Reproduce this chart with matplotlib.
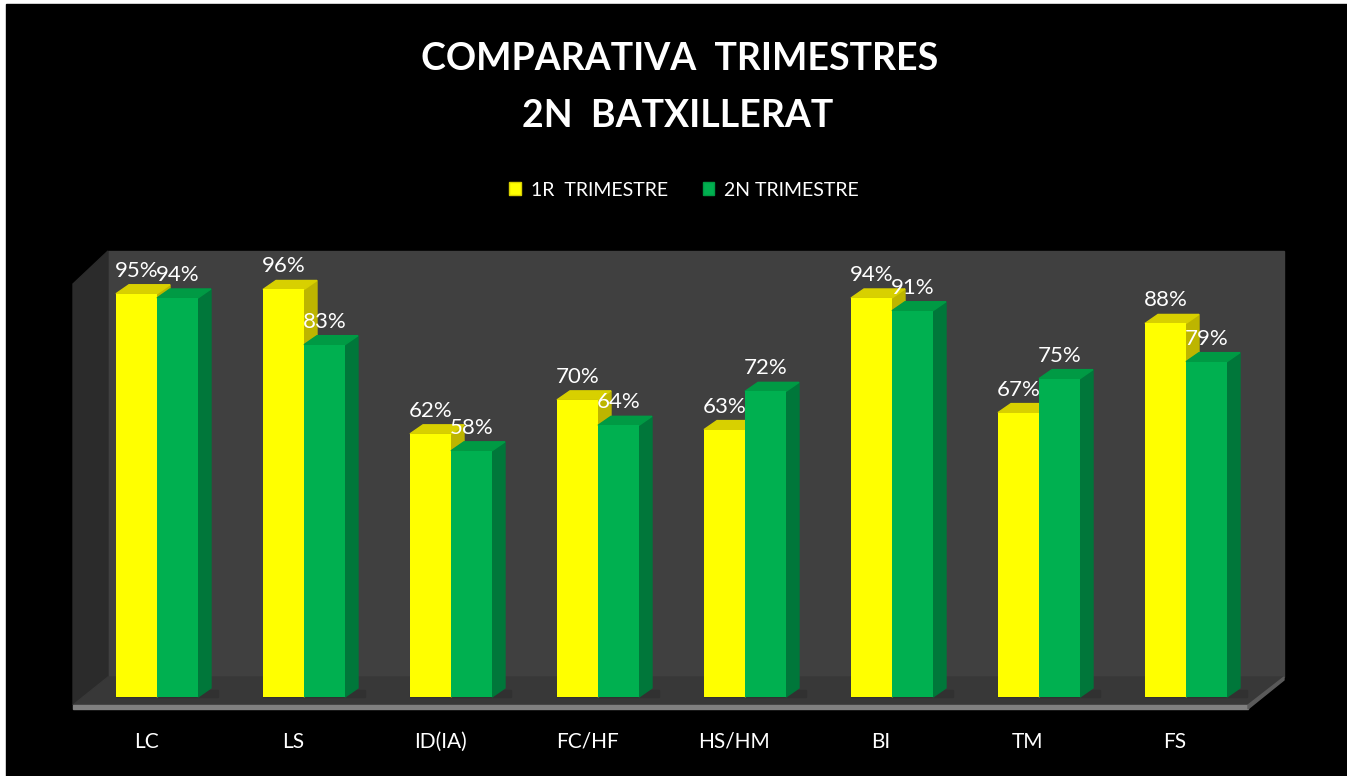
import matplotlib
matplotlib.use("Agg")
import matplotlib.pyplot as plt
from matplotlib.patches import Polygon, Rectangle, Patch

# Dades
categories = ["LC", "LS", "ID(IA)", "FC/HF", "HS/HM", "BI", "TM", "FS"]
trim1 = [95, 96, 62, 70, 63, 94, 67, 88]
trim2 = [94, 83, 58, 64, 72, 91, 75, 79]
series_names = ["1R  TRIMESTRE", "2N TRIMESTRE"]

W, H = 1347, 776
FONT = ["Lato", "DejaVu Sans"]
plt.rcParams["font.family"] = FONT

# geometria en pixels (origen dalt-esquerra)
X0, STEP = 157, 147      # centre de la primera categoria, separacio
Y0, PPU = 697, 4.245     # linia de zero, pixels per %
DX, DY = 13, 9           # profunditat de les barres

fig = plt.figure(figsize=(W / 100, H / 100), dpi=100)
fig.patch.set_facecolor("white")

# fons i parets (coordenades pixel)
bg = fig.add_axes([0, 0, 1, 1])
bg.set_xlim(0, W)
bg.set_ylim(H, 0)
bg.axis("off")
bg.add_patch(Rectangle((6, 4), W, H, color="black"))
bg.add_patch(Rectangle((108, 251), 1284 - 108, 677 - 251, color="#404040"))
bg.add_patch(Polygon([(73, 284), (108, 251), (108, 677), (73, 705)], color="#2b2b2b"))
bg.add_patch(Polygon([(73, 705), (1248, 705), (1284, 677), (108, 677)], color="#383838"))
bg.add_patch(Polygon([(73, 705), (1248, 705), (1248, 709), (73, 709)], color="#808080"))
bg.add_patch(Polygon([(1248, 705), (1284, 677), (1284, 680), (1248, 709)], color="#5a5a5a"))

# eix de dades
ax = fig.add_axes([0, 0, 1, 1])
ax.patch.set_alpha(0)
ax.set_xlim(-X0 / STEP, (W - X0) / STEP)
ax.set_ylim((Y0 - H) / PPU, Y0 / PPU)
ax.axis("off")

w = 41 / STEP
dx = DX / STEP
dy = DY / PPU
styles = [("#FFFF00", "#D8D000", "#BDB500"), ("#00B050", "#009A44", "#00773A")]

for i in range(len(categories)):
    for k, vals in enumerate([trim1, trim2]):
        v = vals[i]
        x = i + (k - 0.5) * w
        front, top, side = styles[k]
        l, r = x - w / 2, x + w / 2
        # ombra suau al terra
        ax.add_patch(Polygon([(l, 0), (r + dx * 1.5, 0), (r + dx * 1.5, dy * 0.8), (l, dy * 0.8)],
                             color="#313131", zorder=2))
        ax.add_patch(Polygon([(r, 0), (r + dx, dy), (r + dx, v + dy), (r, v)], color=side, zorder=3))
        ax.add_patch(Polygon([(l, v), (r, v), (r + dx, v + dy), (l + dx, v + dy)], color=top, zorder=3))
        ax.bar(x, v, width=w, color=front, zorder=3, linewidth=0)
        ax.annotate(f"{v}%", (x, v), xytext=(0, 17), textcoords="offset pixels",
                    ha="center", va="baseline", color="white", fontsize=16, zorder=5)
    ax.annotate(categories[i], (i, 0), xytext=(-11, -45), textcoords="offset pixels",
                ha="center", va="center", color="white", fontsize=15)

# titol
fig.text(680 / W, 1 - 59 / H, "COMPARATIVA  TRIMESTRES", ha="center", va="center",
         color="white", fontsize=27, fontweight="bold")
fig.text(678 / W, 1 - 116 / H, "2N  BATXILLERAT", ha="center", va="center",
         color="white", fontsize=27, fontweight="bold")

# llegenda
handles = [Patch(facecolor=styles[0][0], edgecolor=styles[0][1]),
           Patch(facecolor=styles[1][0], edgecolor=styles[1][1])]
leg = fig.legend(handles, series_names, loc="center", bbox_to_anchor=(684 / W, 1 - 190 / H),
                 ncol=2, frameon=False, fontsize=14, handlelength=0.6, handleheight=0.6,
                 handletextpad=0.5, columnspacing=1.8)
for t in leg.get_texts():
    t.set_color("white")

fig.savefig("out.png", dpi=100, facecolor=fig.get_facecolor())
